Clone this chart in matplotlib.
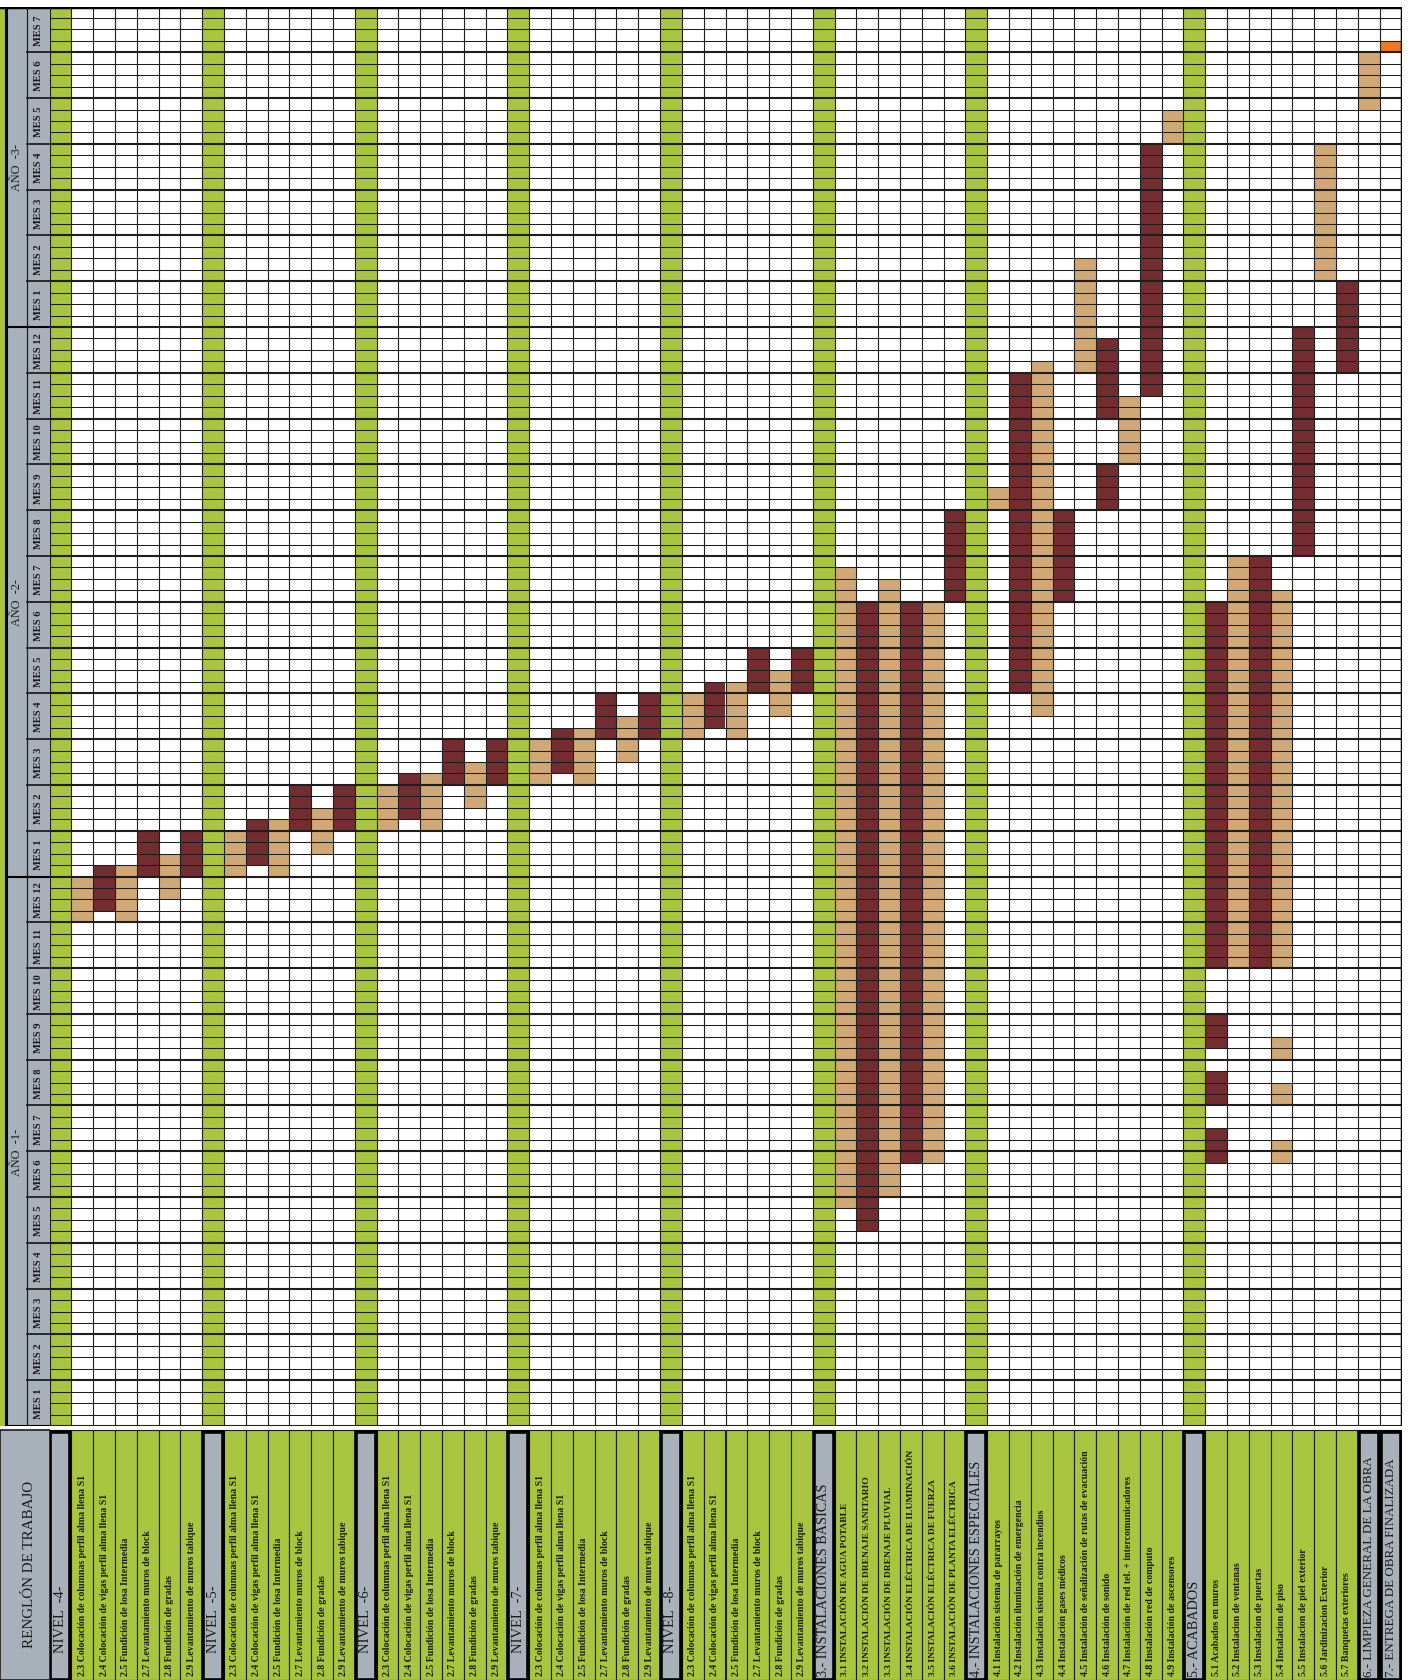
import matplotlib
matplotlib.use("Agg")
import matplotlib.pyplot as plt
from matplotlib.patches import Rectangle

# ---------------- data ----------------
years = ["AÑO  -1-", "AÑO  -2-", "AÑO  -3-"]
months_per_year = [12, 12, 7]
weeks_per_month = 4

nivel_names = ["NIVEL  -4-", "NIVEL  -5-", "NIVEL  -6-", "NIVEL  -7-", "NIVEL  -8-"]
nivel_tasks = [
    "2.3 Colocación de columnas perfil alma llena S1",
    "2.4 Colocación de vigas perfil alma llena S1",
    "2.5 Fundición de losa Intermedia",
    "2.7 Levantamiento muros de block",
    "2.8 Fundición de gradas",
    "2.9 Levantamiento de muros tabique",
]
nivel_kind = ["t", "m", "t", "m", "t", "m"]
nivel4_start = [44, 45, 44, 48, 46, 48]
nivel4_end = [48, 49, 49, 52, 50, 52]
nivel5_start = [48, 49, 48, 52, 50, 52]
nivel5_end = [52, 53, 53, 56, 54, 56]
nivel6_start = [52, 53, 52, 56, 54, 56]
nivel6_end = [56, 57, 57, 60, 58, 60]
nivel7_start = [56, 57, 56, 60, 58, 60]
nivel7_end = [60, 61, 61, 64, 62, 64]
nivel8_start = [60, 61, 60, 64, 62, 64]
nivel8_end = [64, 65, 65, 68, 66, 68]

basicas_title = "3.- INSTALACIONES BÁSICAS"
basicas_tasks = [
    "3.1 INSTALACIÓN DE AGUA POTABLE",
    "3.2 INSTALACIÓN DE DRENAJE SANITARIO",
    "3.3 INSTALACIÓN DE DRENAJE PLUVIAL",
    "3.4 INSTALACIÓN ELÉCTRICA DE ILUMINACIÓN",
    "3.5 INSTALACIÓN ELÉCTRICA DE FUERZA",
    "3.6 INSTALACIÓN DE PLANTA ELÉCTRICA",
]
basicas_start = [19, 17, 20, 23, 23, 72]
basicas_end = [75, 72, 74, 72, 72, 80]
basicas_kind = ["t", "m", "t", "m", "t", "m"]

especiales_title = "4.- INSTALACIONES ESPECIALES"
especiales_tasks = [
    "4.1 Instalación sistema de pararrayos",
    "4.2 Instalación iluminación de emergencia",
    "4.3 Instalación sistema contra incendios",
    "4.4 Instalación gases médicos",
    "4.5 Instalación de señalización de rutas de evacuación",
    "4.6 Instalación de sonido",
    "4.7 Instalación de red tel. + intercomunicadores",
    "4.8 Instalación red de computo",
    "4.9 Instalación de ascensores",
]
# (task index within section, start week, end week, kind)
especiales_seg_task = [0, 1, 2, 3, 4, 5, 5, 6, 7, 8]
especiales_seg_start = [80, 64, 62, 72, 92, 80, 88, 84, 90, 112]
especiales_seg_end = [82, 92, 93, 80, 102, 84, 95, 90, 112, 115]
especiales_seg_kind = ["t", "m", "t", "m", "t", "m", "m", "t", "m", "t"]

acabados_title = "5.- ACABADOS"
acabados_tasks = [
    "5.1 Acabados en muros",
    "5.2 Instalacion de ventanas",
    "5.3 Instalacion de puertas",
    "5.4 Instalacion de piso",
    "5.5 Instalacion de piel exterior",
    "5.6 Jardinizacion Exterior",
    "5.7 Banquetas exteriores",
]
acabados_seg_task = [0, 0, 0, 0, 1, 2, 3, 3, 3, 3, 4, 5, 6]
acabados_seg_start = [23, 28, 33, 40, 40, 40, 23, 28, 32, 40, 76, 100, 92]
acabados_seg_end = [26, 31, 36, 72, 76, 76, 25, 30, 34, 73, 96, 112, 100]
acabados_seg_kind = ["m", "m", "m", "m", "t", "m", "t", "t", "t", "t", "m", "t", "m"]

final_titles = ["6.- LIMPIEZA GENERAL DE LA OBRA", "7.- ENTREGA DE OBRA FINALIZADA"]
final_start = [115, 120]
final_end = [120, 121]
final_kind = ["t", "o"]

# ---------------- styles ----------------
C_M = "#732d31"
C_T = "#cfa876"
C_O = "#f27a1c"
C_GREEN = "#a9c43e"
C_GRAY = "#a8b1b9"
KIND_COL = {"m": C_M, "t": C_T, "o": C_O}
SERIF = ["Liberation Serif", "DejaVu Serif"]

# ---------------- build rows ----------------
labels, is_header, green_col = [], [], []
segs = []  # (row, start, end, kind)
nivel_s = [nivel4_start, nivel5_start, nivel6_start, nivel7_start, nivel8_start]
nivel_e = [nivel4_end, nivel5_end, nivel6_end, nivel7_end, nivel8_end]
for n, name in enumerate(nivel_names):
    labels.append(name); is_header.append(True); green_col.append(True)
    for k, t in enumerate(nivel_tasks):
        r = len(labels)
        labels.append(t); is_header.append(False); green_col.append(False)
        segs.append((r, nivel_s[n][k], nivel_e[n][k], nivel_kind[k]))

labels.append(basicas_title); is_header.append(True); green_col.append(True)
base = len(labels)
for k, t in enumerate(basicas_tasks):
    labels.append(t); is_header.append(False); green_col.append(False)
    segs.append((base + k, basicas_start[k], basicas_end[k], basicas_kind[k]))

labels.append(especiales_title); is_header.append(True); green_col.append(True)
base = len(labels)
for t in especiales_tasks:
    labels.append(t); is_header.append(False); green_col.append(False)
for k in range(len(especiales_seg_task)):
    segs.append((base + especiales_seg_task[k], especiales_seg_start[k],
                 especiales_seg_end[k], especiales_seg_kind[k]))

labels.append(acabados_title); is_header.append(True); green_col.append(True)
base = len(labels)
for t in acabados_tasks:
    labels.append(t); is_header.append(False); green_col.append(False)
for k in range(len(acabados_seg_task)):
    segs.append((base + acabados_seg_task[k], acabados_seg_start[k],
                 acabados_seg_end[k], acabados_seg_kind[k]))

for k, t in enumerate(final_titles):
    r = len(labels)
    labels.append(t); is_header.append(True); green_col.append(False)
    segs.append((r, final_start[k], final_end[k], final_kind[k]))

NR = len(labels)
NW = sum(months_per_year) * weeks_per_month

# ---------------- layout ----------------
W, H, DPI = 1413, 1681, 100
fig = plt.figure(figsize=(W / DPI, H / DPI), dpi=DPI)
fig.patch.set_facecolor("white")
GX0, GX1 = 49.5, 1401.5
GY0, GY1 = 7.5, 1427.0
gl, gw = GX0 / W, (GX1 - GX0) / W
gb, gh = (H - GY1) / H, (GY1 - GY0) / H

ax = fig.add_axes([gl, gb, gw, gh])
ax.set_xlim(0, NR)
ax.set_ylim(0, NW)
ax.axis("off")

# green section columns
gx = [i + 0.5 for i in range(NR) if green_col[i]]
ax.bar(gx, [NW] * len(gx), width=1.0, bottom=0, color=C_GREEN, zorder=1)
# task bars
ax.bar([s[0] + 0.5 for s in segs], [s[2] - s[1] for s in segs], width=1.0,
       bottom=[s[1] for s in segs], color=[KIND_COL[s[3]] for s in segs],
       linewidth=0, zorder=2)
# grid
for w in range(NW + 1):
    lw = 1.5 if w % weeks_per_month == 0 else 0.75
    ax.axhline(w, color="#1e1e1e", lw=lw, zorder=3)
for c in range(NR + 1):
    ax.axvline(c, color="#1e1e1e", lw=0.8, zorder=3)
ax.axvline(NR, color="black", lw=2.5, zorder=4)
ax.axhline(NW, color="black", lw=2.5, zorder=4)

# ---------------- left time header ----------------
axl = fig.add_axes([0, gb, GX0 / W, gh])
axl.set_xlim(0, GX0)
axl.set_ylim(0, NW)
axl.axis("off")
axl.add_patch(Rectangle((0, 0), 5, NW, color=C_GREEN, zorder=1))
axl.add_patch(Rectangle((6, 0), GX0 - 6, NW, color=C_GRAY, zorder=1))
axl.axvline(5.5, color="black", lw=2.2, zorder=3)
axl.axvline(27, color="#1e1e1e", lw=0.9, zorder=3)
axl.axhline(NW, color="black", lw=2.5, zorder=4)
w0 = 0
for y, nm in enumerate(months_per_year):
    for m in range(nm):
        ms = w0 + m * weeks_per_month
        axl.plot([27, GX0], [ms, ms], color="#1e1e1e", lw=1.3, zorder=3)
        axl.text((27 + GX0) / 2 + 0.5, ms + weeks_per_month / 2, f"MES {m + 1}",
                 rotation=90, ha="center", va="center", fontsize=7.6,
                 fontweight="bold", family=SERIF, color="#1a1a1a", zorder=5)
    axl.plot([5.5, GX0], [w0, w0], color="black", lw=1.5, zorder=3)
    axl.text(16.5, w0 + nm * weeks_per_month / 2, years[y], rotation=90,
             ha="center", va="center", fontsize=8.8, family=SERIF,
             color="#1a1a1a", zorder=5)
    w0 += nm * weeks_per_month

# ---------------- bottom-left header ----------------
axc = fig.add_axes([0, 0, GX0 / W, gb])
axc.set_xlim(0, 1)
axc.set_ylim(0, 1)
axc.axis("off")
axc.add_patch(Rectangle((0, 0), 1, 0.985, facecolor=C_GRAY, edgecolor="#1e1e1e", lw=1.2))
axc.text(0.6, 0.46, "RENGLÓN DE TRABAJO", rotation=90, ha="center", va="center",
         fontsize=10.8, family=SERIF, color="#1a1a1a")

# ---------------- bottom row labels ----------------
axb = fig.add_axes([gl, 0, gw, gb])
axb.set_xlim(0, NR)
axb.set_ylim(0, 1)
axb.axis("off")
axb.bar([i + 0.5 for i in range(NR)], [0.985] * NR, width=1.0, bottom=0,
        color=[C_GRAY if h else C_GREEN for h in is_header],
        edgecolor="#1e1e1e", linewidth=0.8, zorder=1)
for i, (lab, h) in enumerate(zip(labels, is_header)):
    if h:
        axb.add_patch(Rectangle((i + 0.04, 0), 0.92, 0.975, fill=False,
                                edgecolor="black", lw=2.6, zorder=3))
        if lab.startswith("NIVEL"):
            y0, fs = 0.11, 10.5
        elif lab[0] in "67":
            y0, fs = 0.015, 9.4
        else:
            y0, fs = 0.015, 10.2
        axb.text(i + 0.5, y0, lab, rotation=90, rotation_mode="anchor",
                 ha="left", va="center", fontsize=fs, family=SERIF,
                 color="#1a1a1a", zorder=4)
    else:
        fs = 6.8 if lab[:1] == "3" else 7.1
        axb.text(i + 0.5, 0.02, lab, rotation=90, rotation_mode="anchor",
                 ha="left", va="center", fontsize=fs, family=SERIF,
                 fontweight="bold", color="#1a1a1a", zorder=4)

fig.savefig("out.png", dpi=DPI, facecolor="white")
